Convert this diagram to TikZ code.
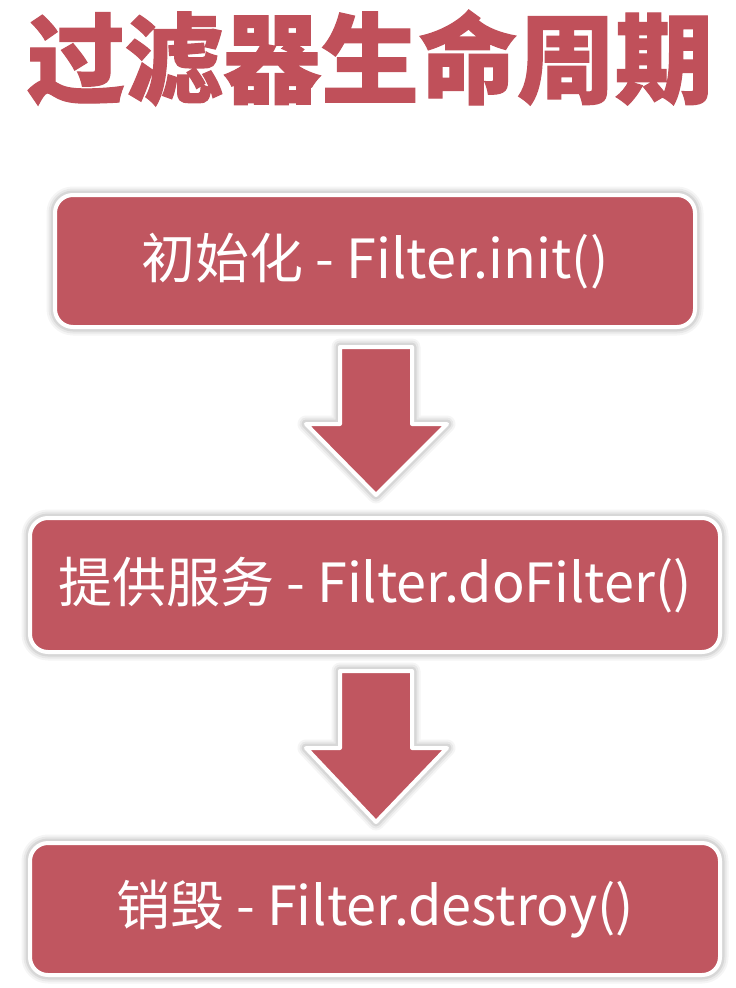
\documentclass[tikz,border=0pt]{standalone}
\usepackage{fontspec}
\setmainfont{Noto Sans CJK SC}
\newfontfamily\cjk{Noto Sans CJK SC}
\newfontfamily\titlefont{Noto Sans CJK SC}[BoldFeatures={FakeBold=1.2}]
\definecolor{boxred}{RGB}{192,86,96}
\definecolor{titlered}{RGB}{192,80,90}
\tikzset{
  halo/.style={
    preaction={draw=black, draw opacity=0.04, line width=17pt, line join=round},
    preaction={draw=black, draw opacity=0.05, line width=13pt, line join=round},
    preaction={draw=black, draw opacity=0.07, line width=9pt, line join=round}},
  stagebox/.style={rectangle, rounded corners=18pt, fill=boxred, draw=white,
    line width=4pt, text=white, font=\cjk\fontsize{54}{62}\selectfont,
    inner sep=0pt, halo},
  titletext/.style={text=titlered, font=\titlefont\bfseries\fontsize{98}{110}\selectfont, inner sep=0pt},
  blockarrow/.style={fill=boxred, draw=white, line width=4pt, line join=round, halo}
}
\begin{document}
\begin{tikzpicture}[x=1pt,y=-1pt]
\useasboundingbox (0,0) rectangle (736,988);
\fill[white] (0,0) rectangle (736,988);
\node[titletext] (title) at (370,58) {过滤器生命周期};
\node[stagebox, minimum width=640, minimum height=132] (init) at (375,261) {初始化 - Filter.init()};
\node[stagebox, minimum width=690, minimum height=134] (serve) at (375,585) {提供服务 - Filter.doFilter()};
\node[stagebox, minimum width=690, minimum height=132] (destroy) at (375,909) {销毁 - Filter.destroy()};
% arrow 1
\coordinate (a1) at (376,347);
\draw[blockarrow] ([xshift=-36pt]a1) -- ([xshift=36pt]a1) -- ++(0,77) -- ++(35,0)
  -- (376,495) -- (306,424) -- ([xshift=-36pt,yshift=-77pt]a1) -- cycle;
% arrow 2
\coordinate (a2) at (376,671);
\draw[blockarrow] ([xshift=-36pt]a2) -- ([xshift=36pt]a2) -- ++(0,77) -- ++(35,0)
  -- (376,822) -- (306,748) -- ([xshift=-36pt,yshift=-77pt]a2) -- cycle;
\end{tikzpicture}
\end{document}
